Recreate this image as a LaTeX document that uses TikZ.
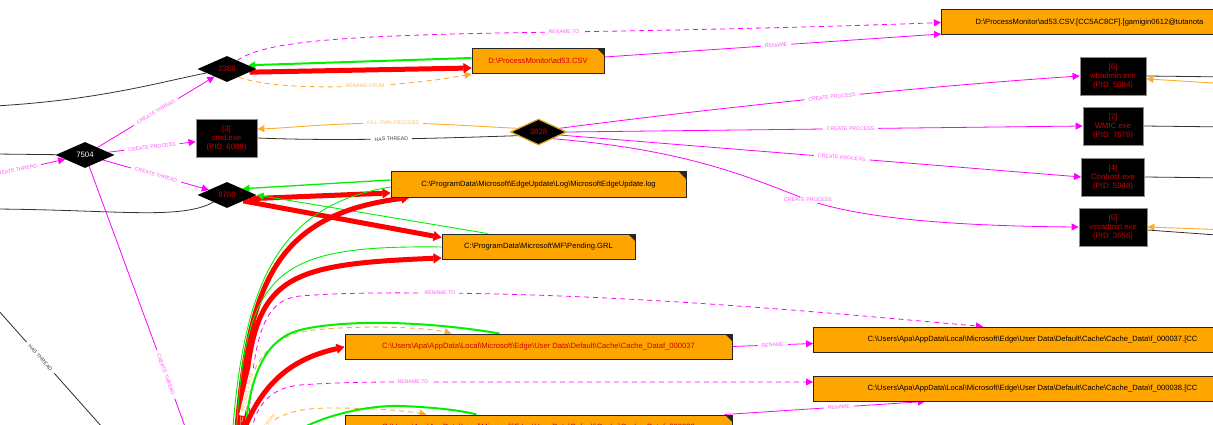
\documentclass[tikz,border=0pt]{standalone}
\usepackage{fontspec}
\setmainfont{Liberation Sans}
\usetikzlibrary{shapes.geometric,arrows.meta,calc}
\pgfdeclarelayer{edges}
\pgfsetlayers{edges,main}
\definecolor{cMag}{RGB}{255,0,255}
\definecolor{cMagTxt}{RGB}{255,90,255}
\definecolor{cOrg}{RGB}{255,170,40}
\definecolor{cOrgTxt}{RGB}{255,190,90}
\definecolor{cGrn}{RGB}{0,240,0}
\definecolor{cRed}{RGB}{255,0,0}
\definecolor{cTxtRed}{RGB}{205,0,0}
\definecolor{cFile}{RGB}{255,165,0}
\definecolor{cGold}{RGB}{218,165,32}
\definecolor{cEdge}{RGB}{50,50,50}
\def\bsl{\textbackslash}
\begin{document}
\begin{tikzpicture}[x=1pt,y=-1pt,
  thrnode/.style={diamond, fill=black, minimum width=59pt, minimum height=26pt,
    inner sep=0pt, aspect=2.3, text=cTxtRed, font=\fontsize{7.8}{9}\selectfont},
  procbox/.style={rectangle, fill=black, draw=black!45, line width=0.8pt, inner sep=0pt,
    align=center, minimum height=38pt, text=cTxtRed, font=\fontsize{7.8}{9}\selectfont},
  filebox/.style={rectangle, fill=cFile, draw=black!85, line width=1pt, inner sep=0pt,
    minimum height=25pt, font=\fontsize{7.6}{9}\selectfont,
    path picture={\fill[black!85] ([xshift=-7pt]path picture bounding box.north east)
      -- (path picture bounding box.north east)
      -- ([yshift=-7pt]path picture bounding box.north east) -- cycle;}},
  lbl/.style={sloped, fill=white, inner xsep=4pt, inner ysep=0.8pt, font=\fontsize{5.2}{6}\selectfont},
  lm/.style={lbl, text=cMagTxt},
  lo/.style={lbl, text=cOrgTxt},
  lk/.style={lbl, text=black!75},
  emag/.style={draw=cMag, line width=0.8pt},
  edash/.style={dash pattern=on 5pt off 4pt},
  eorg/.style={draw=cOrg, line width=0.9pt},
  egrn/.style={draw=cGrn, line width=2pt},
  egrnt/.style={draw=cGrn, line width=0.9pt},
  ered/.style={draw=cRed, line width=5pt},
  eblk/.style={draw=cEdge, line width=0.8pt},
  tipS/.style={-{Triangle[length=7pt,width=7pt]}},
  tipSr/.style={{Triangle[length=7pt,width=7pt]}-},
  tipR/.style={-{Triangle[length=8pt,width=10pt,line width=0.5pt]}}
]
\useasboundingbox (0,0) rectangle (1213,425);

% thread nodes
\node[thrnode, text=white] (t7504) at (85,155) {7504};
\node[thrnode] (t2388) at (227,69) {2388};
\node[thrnode] (t8760) at (227,195) {8760};
\node[thrnode, draw=cGold, line width=1.2pt, minimum width=56pt] (t3828) at (538.5,132) {3828};

% process nodes
\node[procbox, minimum width=61pt] (p3) at (226.5,138) {[3]\\cmd.exe\\(PID: 6088)};
\node[procbox, minimum width=66pt] (p6) at (1113,76) {[6]\\wbadmin.exe\\(PID: 5084)};
\node[procbox, minimum width=60pt] (p7) at (1113,126) {[7]\\WMIC.exe\\(PID: 7676)};
\node[procbox, minimum width=63pt] (p4) at (1113,177) {[4]\\Conhost.exe\\(PID: 5948)};
\node[procbox, minimum width=68pt] (p5) at (1113,227) {[5]\\vssadmin.exe\\(PID: 3656)};

% file nodes
\node[filebox, minimum width=132pt, text=cTxtRed] (fcsv) at (538,61) {D:\bsl ProcessMonitor\bsl ad53.CSV};
\node[filebox, anchor=west, inner xsep=34pt] (fren) at (941,22.5) {D:\bsl ProcessMonitor\bsl ad53.CSV.[CC5AC8CF].[gamigin0612@tutanota};
\node[filebox, minimum width=295pt] (flog) at (538.5,184.5) {C:\bsl ProgramData\bsl Microsoft\bsl EdgeUpdate\bsl Log\bsl MicrosoftEdgeUpdate.log};
\node[filebox, minimum width=193pt] (fpend) at (538.5,246.5) {C:\bsl ProgramData\bsl Microsoft\bsl MF\bsl Pending.GRL};
\node[filebox, minimum width=387pt, text=cTxtRed] (f37L) at (538.5,346.5) {C:\bsl Users\bsl Apa\bsl AppData\bsl Local\bsl Microsoft\bsl Edge\bsl User Data\bsl Default\bsl Cache\bsl Cache\_Dataf\_000037};
\node[filebox, minimum width=387pt, text=cTxtRed] (f38L) at (538.5,427.5) {C:\bsl Users\bsl Apa\bsl AppData\bsl Local\bsl Microsoft\bsl Edge\bsl User Data\bsl Default\bsl Cache\bsl Cache\_Dataf\_000038};
\node[filebox, anchor=west, inner xsep=54pt] (f37R) at (813,339.5) {C:\bsl Users\bsl Apa\bsl AppData\bsl Local\bsl Microsoft\bsl Edge\bsl User Data\bsl Default\bsl Cache\bsl Cache\_Data\bsl f\_000037.[CC};
\node[filebox, anchor=west, inner xsep=54pt] (f38R) at (813,388.5) {C:\bsl Users\bsl Apa\bsl AppData\bsl Local\bsl Microsoft\bsl Edge\bsl User Data\bsl Default\bsl Cache\bsl Cache\_Data\bsl f\_000038.[CC};

% loose ends beyond the frame
\coordinate (L1) at (-5,106);
\coordinate (L2) at (-5,154);
\coordinate (L3) at (-5,209);
\coordinate (L4) at (-30,180);
\coordinate (H1) at (-10,301);
\coordinate (H2) at (110,436);
\coordinate (D1) at (190,440);
\coordinate (R6a) at (1230,77);
\coordinate (R6b) at (1230,84);
\coordinate (R7) at (1230,127);
\coordinate (R4) at (1230,178);
\coordinate (R5a) at (1230,230);
\coordinate (R5b) at (1230,236);
\coordinate (B1) at (236,440);
\coordinate (B2) at (232,440);
\coordinate (B3) at (242,440);
\coordinate (B4) at (236,440);
\coordinate (B5) at (248,440);
\coordinate (B6) at (240,440);
\coordinate (B7) at (244,440);
\coordinate (B8) at (240,440);
\coordinate (B9) at (250,440);
\coordinate (B10) at (258,440);
\coordinate (B11) at (285,440);

\begin{pgfonlayer}{edges}
% left side
\draw[eblk] (L1) .. controls (100,100) and (160,82) .. (t2388);
\draw[eblk] (L2) -- (t7504);
\draw[eblk] (L3) .. controls (120,210) and (180,220) .. (t8760);
\draw[emag,tipS] (L4) -- node[lm,pos=0.48]{CREATE THREAD} (t7504);
\draw[emag,tipS] (t7504) -- node[lm]{CREATE THREAD} (t2388);
\draw[emag,tipS] (t7504) -- node[lm]{CREATE PROCESS} (p3);
\draw[emag,tipS] (t7504) -- node[lm]{CREATE THREAD} (t8760);
\draw[emag,tipS] (t7504) -- node[lm,pos=0.76]{CREATE THREAD} (D1);
\draw[eblk] (H1) -- node[lk,pos=0.42]{HAS THREAD} (H2);

% thread 2388 and the CSV file
\draw[emag,edash,tipS] (t2388.40) .. controls (265,42) and (330,35) .. (564,32) node[lm]{RENAME TO}
  .. controls (750,29) and (880,25) .. (fren.west);
\draw[eorg,edash,tipS] (t2388.-35) .. controls (265,87) and (320,88) .. (365,86) node[lo]{RENAME FROM}
  .. controls (410,84) and (445,79) .. (fcsv.south west);
\draw[egrn,tipS] ($(fcsv.west)+(0,-3)$) -- (t2388.10);
\draw[ered,tipR] (t2388.-8) -- ($(fcsv.west)+(0,7)$);
\draw[emag,tipS] ($(fcsv.east)+(0,-4)$) -- node[lm,pos=0.51]{RENAME} ($(fren.south west)+(0,-1.5)$);

% thread 3828
\draw[eorg,tipS] (t3828.170) .. controls (470,126) and (430,123) .. (393,123) node[lo]{KILL OWN PROCESS}
  .. controls (330,123) and (290,128) .. ($(p3.east)+(0,-9)$);
\draw[eblk] (p3.east) .. controls (330,141) and (420,139) .. (t3828.190) node[lk,pos=0.55]{HAS THREAD};
\draw[emag,tipS] (t3828.10) .. controls (700,110) and (900,88) .. (p6.west) node[lm,pos=0.55]{CREATE PROCESS};
\draw[emag,tipS] (t3828.east) -- node[lm,pos=0.55]{CREATE PROCESS} (p7.west);
\draw[emag,tipS] (t3828.-8) -- node[lm,pos=0.54]{CREATE PROCESS} (p4.west);
\draw[emag,tipS] (t3828.-25) .. controls (690,150) and (750,178) .. (808,200) node[lm]{CREATE PROCESS}
  .. controls (860,218) and (950,226) .. (p5.west);

% right side
\draw[eblk] (p6.east) -- (R6a);
\draw[eorg,tipS] (R6b) -- (p6.-5);
\draw[eblk] (p7.east) -- (R7);
\draw[eblk] (p4.east) -- (R4);
\draw[eorg,tipS] (R5a) -- (p5.east);
\draw[eblk] (p5.-5) -- (R5b);

% thread 8760
\draw[egrn,line width=1.3pt,tipS] ($(flog.west)+(0,-4.5)$) -- (t8760.22);
\draw[ered,tipR] (t8760.-10) -- ($(flog.west)+(0,8.5)$);
\draw[ered,tipR] (t8760.-20) -- ($(fpend.west)+(0,-9)$);
\draw[egrnt,tipS] ($(fpend.north west)+(46,0)$) -- (t8760.east);

% process below the frame
\draw[ered,tipR] (B1) .. controls (248,290) and (270,215) .. ($(flog.south west)+(19,0)$);
\draw[egrnt,tipSr] (B2) .. controls (244,280) and (280,205) .. ($(flog.west)+(0,2.5)$);
\draw[ered,tipR] (B3) .. controls (250,280) and (265,265) .. ($(fpend.west)+(0,11.5)$);
\draw[egrnt,tipSr] (B4) .. controls (245,270) and (275,245) .. ($(fpend.west)+(0,0.5)$);
\draw[emag,edash,tipS] (B5) .. controls (252,330) and (265,300) .. (300,296)
  .. controls (350,292) and (400,293) .. (440,293) node[lm]{RENAME TO}
  .. controls (650,295) and (850,315) .. ($(f37R.north west)+(170,0)$);
\draw[eorg,edash,tipS] (B6) .. controls (246,380) and (255,345) .. (300,332) node[lo,pos=0.3]{RENAME FROM}
  .. controls (340,325) and (420,326) .. ($(f37L.north west)+(107,0)$);
\draw[egrn,tipSr] (B7) .. controls (250,380) and (262,340) .. (300,330)
  .. controls (340,320) and (420,320) .. ($(f37L.north west)+(155,0)$);
\draw[ered,tipR] (B8) .. controls (258,390) and (285,360) .. ($(f37L.west)+(0,0.5)$);
\draw[emag,edash,tipS] (B9) .. controls (254,405) and (270,388) .. (300,385)
  .. controls (340,382) and (380,382) .. (413,382) node[lm]{RENAME TO} -- ($(f38R.west)+(0,-6.5)$);
\draw[eorg,edash,tipS] (B10) .. controls (266,418) and (290,408) .. (330,408) node[lo,pos=0.15]{RENAME FROM}
  .. controls (370,408) and (400,410) .. ($(f38L.north west)+(82,0)$);
\draw[egrn,tipSr] (B11) .. controls (310,420) and (360,405) .. (400,406)
  .. controls (430,407) and (460,410) .. ($(f38L.north west)+(132,0)$);

% renamed cache files
\draw[emag,tipS] (f37L.east) -- node[lm]{RENAME} ($(f37R.west)+(0,4)$);
\draw[emag,tipS] ($(f38L.north east)+(-8,0)$) -- node[lm,pos=0.57]{RENAME} ($(f38R.south west)+(112,0)$);
\end{pgfonlayer}
\end{tikzpicture}
\end{document}
